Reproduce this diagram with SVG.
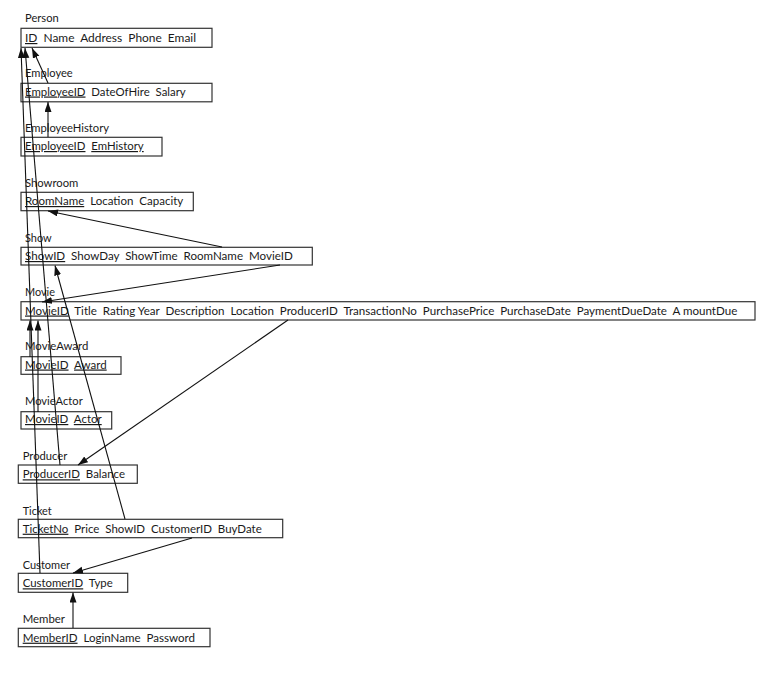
<svg xmlns="http://www.w3.org/2000/svg" width="778" height="673" viewBox="0 0 778 673" xml:space="preserve">
<style>
text{font-family:Lato,"Liberation Sans",sans-serif;font-size:11.8px;fill:#1a1a1a;white-space:pre}
.box{fill:#fff;stroke:#333;stroke-width:1.2}
.u{text-decoration:underline}
.c line{stroke:#111;stroke-width:1.1;marker-end:url(#ah)}
</style>
<defs>
<marker id="ah" markerUnits="userSpaceOnUse" markerWidth="10" markerHeight="8" refX="10" refY="3.5" orient="auto"><path d="M0,0 L10,3.5 L0,7 z" fill="#111"/></marker>
</defs>
<rect width="778" height="673" fill="#fff"/>
<g id="person"><text x="25" y="22" textLength="33.7" lengthAdjust="spacingAndGlyphs">Person</text><rect class="box" x="21" y="28.3" width="191" height="19"/><text x="25" y="42" textLength="171" lengthAdjust="spacingAndGlyphs"><tspan class="u">ID</tspan>  Name  Address  Phone  Email</text></g>
<g id="employee"><text x="25" y="77" textLength="47.7" lengthAdjust="spacingAndGlyphs">Employee</text><rect class="box" x="21" y="83.3" width="191" height="18.5"/><text x="25" y="95.5" textLength="160.7" lengthAdjust="spacingAndGlyphs"><tspan class="u">EmployeeID</tspan>  DateOfHire  Salary</text></g>
<g id="employeehistory"><text x="25" y="132" textLength="84" lengthAdjust="spacingAndGlyphs">EmployeeHistory</text><rect class="box" x="21" y="137.3" width="141" height="18.7"/><text x="25" y="150" textLength="118.7" lengthAdjust="spacingAndGlyphs"><tspan class="u">EmployeeID</tspan>  <tspan class="u">EmHistory</tspan></text></g>
<g id="showroom"><text x="25" y="187" textLength="53.3" lengthAdjust="spacingAndGlyphs">Showroom</text><rect class="box" x="21" y="192.3" width="172.3" height="18.4"/><text x="25" y="205" textLength="158.3" lengthAdjust="spacingAndGlyphs"><tspan class="u">RoomName</tspan>  Location  Capacity</text></g>
<g id="show"><text x="25" y="241.7" textLength="26.7" lengthAdjust="spacingAndGlyphs">Show</text><rect class="box" x="21" y="247.3" width="291.3" height="17.7"/><text x="25" y="260" textLength="267.7" lengthAdjust="spacingAndGlyphs"><tspan class="u">ShowID</tspan>  ShowDay  ShowTime  RoomName  MovieID</text></g>
<g id="movie"><text x="25" y="296" textLength="30" lengthAdjust="spacingAndGlyphs">Movie</text><rect class="box" x="21" y="301.7" width="734" height="18.3"/><text x="25" y="314.5" textLength="712.3" lengthAdjust="spacingAndGlyphs"><tspan class="u">MovieID</tspan>  Title  Rating Year  Description  Location  ProducerID  TransactionNo  PurchasePrice  PurchaseDate  PaymentDueDate  A mountDue</text></g>
<g id="movieaward"><text x="25" y="350" textLength="63.3" lengthAdjust="spacingAndGlyphs">MovieAward</text><rect class="box" x="21" y="356.7" width="100" height="17.6"/><text x="25" y="368.5" textLength="81.7" lengthAdjust="spacingAndGlyphs"><tspan class="u">MovieID</tspan>  <tspan class="u">Award</tspan></text></g>
<g id="movieactor"><text x="25" y="405" textLength="57.7" lengthAdjust="spacingAndGlyphs">MovieActor</text><rect class="box" x="21" y="411.7" width="90.7" height="17.3"/><text x="25" y="423" textLength="76.7" lengthAdjust="spacingAndGlyphs"><tspan class="u">MovieID</tspan>  <tspan class="u">Actor</tspan></text></g>
<g id="producer"><text x="22.7" y="460" textLength="44.6" lengthAdjust="spacingAndGlyphs">Producer</text><rect class="box" x="18.3" y="465" width="119" height="18.3"/><text x="22.7" y="478.3" textLength="102.3" lengthAdjust="spacingAndGlyphs"><tspan class="u">ProducerID</tspan>  Balance</text></g>
<g id="ticket"><text x="22.7" y="515" textLength="29" lengthAdjust="spacingAndGlyphs">Ticket</text><rect class="box" x="18.3" y="519.3" width="264.4" height="18.4"/><text x="22.7" y="532.7" textLength="239" lengthAdjust="spacingAndGlyphs"><tspan class="u">TicketNo</tspan>  Price  ShowID  CustomerID  BuyDate</text></g>
<g id="customer"><text x="22.7" y="569" textLength="47.3" lengthAdjust="spacingAndGlyphs">Customer</text><rect class="box" x="18.3" y="573.3" width="109.4" height="19"/><text x="22.7" y="587.3" textLength="90" lengthAdjust="spacingAndGlyphs"><tspan class="u">CustomerID</tspan>  Type</text></g>
<g id="member"><text x="22.7" y="623.3" textLength="42.3" lengthAdjust="spacingAndGlyphs">Member</text><rect class="box" x="18.3" y="628.3" width="191.7" height="18.4"/><text x="22.7" y="641.7" textLength="172.3" lengthAdjust="spacingAndGlyphs"><tspan class="u">MemberID</tspan>  LoginName  Password</text></g>
<g id="connectors" class="c">
<line x1="48" y1="83" x2="32" y2="48"/>
<line x1="48" y1="137" x2="48" y2="102"/>
<line x1="40" y1="573" x2="21" y2="48"/>
<line x1="60" y1="465" x2="25" y2="48"/>
<line x1="222" y1="247" x2="48" y2="211"/>
<line x1="280" y1="265" x2="42" y2="302"/>
<line x1="30" y1="357" x2="30" y2="320.5"/>
<line x1="38" y1="412" x2="38" y2="320.5"/>
<line x1="288" y1="320" x2="78" y2="465"/>
<line x1="125" y1="519" x2="55" y2="265.5"/>
<line x1="192" y1="538" x2="73" y2="573"/>
<line x1="73" y1="628" x2="73" y2="592.5"/>
</g>
</svg>
